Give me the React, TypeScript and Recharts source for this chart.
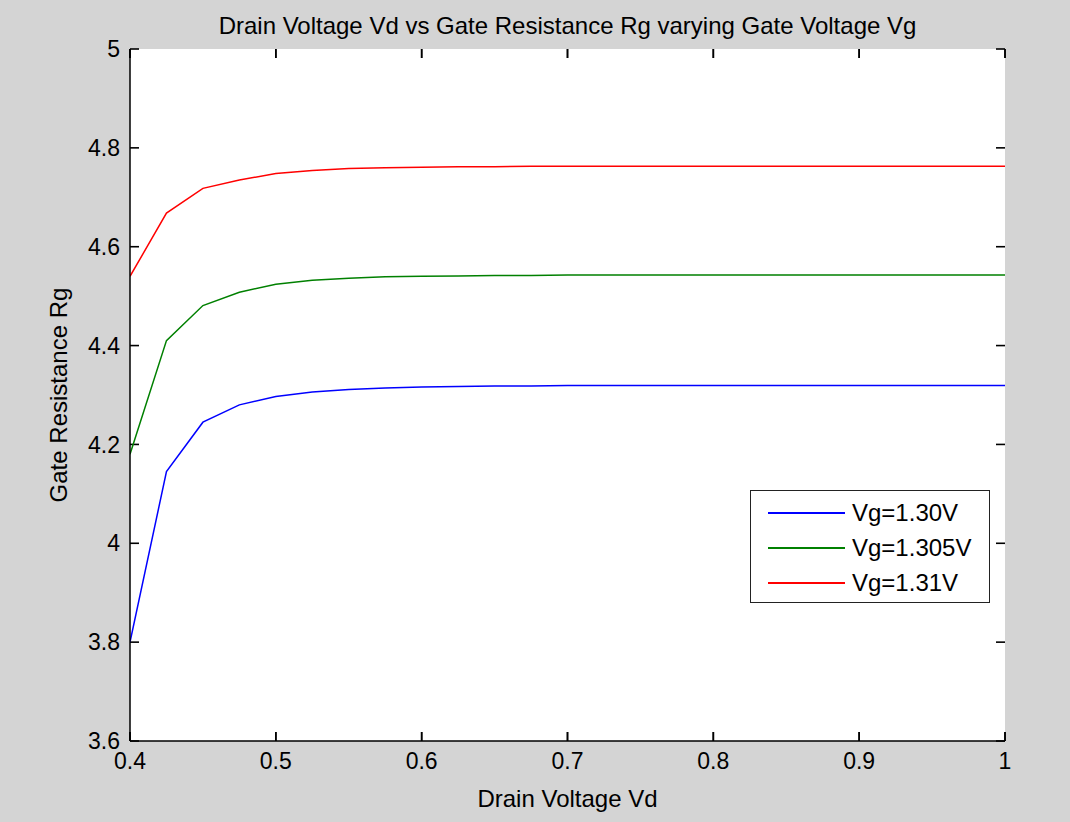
import React from 'react';
import {
  LineChart,
  Line,
  XAxis,
  YAxis,
  CartesianGrid,
  ReferenceLine,
  Legend,
  Label,
} from 'recharts';

// Drain voltage samples (x axis)
const vd = [
  0.4, 0.425, 0.45, 0.475, 0.5, 0.525, 0.55, 0.575, 0.6, 0.625, 0.65, 0.675, 0.7,
  0.725, 0.75, 0.775, 0.8, 0.825, 0.85, 0.875, 0.9, 0.925, 0.95, 0.975, 1.0,
];

// Gate resistance for each gate voltage
const rg130 = [
  3.8, 4.145, 4.245, 4.28, 4.297, 4.306, 4.311, 4.314, 4.316, 4.317, 4.318, 4.318, 4.319,
  4.319, 4.319, 4.319, 4.319, 4.319, 4.319, 4.319, 4.319, 4.319, 4.319, 4.319, 4.319,
];
const rg1305 = [
  4.18, 4.41, 4.481, 4.508, 4.524, 4.532, 4.536, 4.539, 4.54, 4.541, 4.542, 4.542, 4.543,
  4.543, 4.543, 4.543, 4.543, 4.543, 4.543, 4.543, 4.543, 4.543, 4.543, 4.543, 4.543,
];
const rg131 = [
  4.54, 4.668, 4.718, 4.735, 4.748, 4.754, 4.758, 4.76, 4.761, 4.762, 4.762, 4.763, 4.763,
  4.763, 4.763, 4.763, 4.763, 4.763, 4.763, 4.763, 4.763, 4.763, 4.763, 4.763, 4.763,
];

const xTicks = [0.4, 0.5, 0.6, 0.7, 0.8, 0.9, 1];
const yTicks = [3.6, 3.8, 4, 4.2, 4.4, 4.6, 4.8, 5];

const series = [
  { key: 'vg130', name: 'Vg=1.30V', color: '#0000ff' },
  { key: 'vg1305', name: 'Vg=1.305V', color: '#008000' },
  { key: 'vg131', name: 'Vg=1.31V', color: '#ff0000' },
];

const data = vd.map((v, i) => ({
  vd: v,
  vg130: rg130[i],
  vg1305: rg1305[i],
  vg131: rg131[i],
}));

const W = 1070;
const H = 822;
const MARGIN = { top: 49, right: 65, bottom: 21, left: 70 };
const Y_AXIS_W = 60;
const X_AXIS_H = 60;

const FONT = '"Liberation Sans", Arial, sans-serif';
const tickStyle = { fill: '#000', fontSize: 23, fontFamily: FONT };
const labelStyle = { fill: '#000', fontSize: 24, fontFamily: FONT };
const boxLine = { stroke: '#000', strokeWidth: 1.5 };
const TICK_LEN = 9;
const TICK_W = 1.6;

// grid lines reduced to short inward tick marks at both ends (MATLAB box ticks)
const hTick = (p: any) => (
  <g key={p.key}>
    <line x1={p.x1} x2={p.x1 + TICK_LEN} y1={p.y1} y2={p.y2} stroke="#000" strokeWidth={TICK_W} />
    <line x1={p.x2 - TICK_LEN} x2={p.x2} y1={p.y1} y2={p.y2} stroke="#000" strokeWidth={TICK_W} />
  </g>
);
const vTick = (p: any) => {
  const top = Math.min(p.y1, p.y2);
  const bottom = Math.max(p.y1, p.y2);
  return (
    <g key={p.key}>
      <line x1={p.x1} x2={p.x1} y1={top} y2={top + TICK_LEN} stroke="#000" strokeWidth={TICK_W} />
      <line x1={p.x1} x2={p.x1} y1={bottom - TICK_LEN} y2={bottom} stroke="#000" strokeWidth={TICK_W} />
    </g>
  );
};

// MATLAB-style boxed legend
const renderLegend = () => (
  <div
    style={{
      width: 240,
      height: 113,
      boxSizing: 'border-box',
      background: '#fff',
      border: '1.5px solid #222',
      paddingTop: 4,
      fontFamily: FONT,
      fontSize: 24,
      color: '#000',
    }}
  >
    {series.map((s) => (
      <div key={s.key} style={{ display: 'flex', alignItems: 'center', height: 35 }}>
        <div style={{ marginLeft: 17, width: 77, height: 2, background: s.color }} />
        <span style={{ marginLeft: 7 }}>{s.name}</span>
      </div>
    ))}
  </div>
);

export default function App() {
  const plotLeft = MARGIN.left + Y_AXIS_W;
  const plotTop = MARGIN.top;
  const plotW = W - plotLeft - MARGIN.right;
  const plotH = H - plotTop - MARGIN.bottom - X_AXIS_H;
  return (
    <div
      style={{
        position: 'absolute',
        left: 0,
        top: 0,
        width: W,
        height: H,
        background: '#d4d4d4',
      }}
    >
      {/* white axes background, behind the svg */}
      <div
        style={{
          position: 'absolute',
          left: plotLeft,
          top: plotTop,
          width: plotW,
          height: plotH,
          background: '#fff',
        }}
      />
      <div
        style={{
          position: 'absolute',
          left: plotLeft,
          width: plotW,
          top: 12,
          textAlign: 'center',
          fontFamily: FONT,
          fontSize: 24,
          lineHeight: '28px',
          color: '#000',
        }}
      >
        Drain Voltage Vd vs Gate Resistance Rg varying Gate Voltage Vg
      </div>
      <LineChart width={W} height={H} data={data} margin={MARGIN}>
        <CartesianGrid
          xAxisId="b"
          yAxisId="l"
          fill="none"
          stroke="#000"
          horizontal={hTick}
          vertical={vTick}
        />
        <XAxis
          xAxisId="b"
          dataKey="vd"
          type="number"
          domain={[0.4, 1]}
          ticks={xTicks}
          height={X_AXIS_H}
          tickLine={false}
          tickSize={0}
          tickMargin={12}
          axisLine={boxLine}
          tick={tickStyle}
          allowDataOverflow
        >
          <Label value="Drain Voltage Vd" position="insideBottom" offset={-6} style={labelStyle} />
        </XAxis>
        <YAxis
          yAxisId="l"
          type="number"
          domain={[3.6, 5]}
          ticks={yTicks}
          width={Y_AXIS_W}
          tickLine={false}
          tickSize={0}
          tickMargin={10}
          axisLine={boxLine}
          tick={tickStyle}
          allowDataOverflow
        >
          <Label
            value="Gate Resistance Rg"
            angle={-90}
            position="insideLeft"
            offset={-12}
            style={{ ...labelStyle, textAnchor: 'middle' }}
          />
        </YAxis>
        <XAxis
          xAxisId="t"
          dataKey="vd"
          type="number"
          orientation="top"
          domain={[0.4, 1]}
          height={0}
          mirror
          tick={false}
          tickLine={false}
          axisLine={boxLine}
        />
        <YAxis
          yAxisId="r"
          type="number"
          orientation="right"
          domain={[3.6, 5]}
          width={0}
          mirror
          tick={false}
          tickLine={false}
          axisLine={boxLine}
        />
        {/* top / bottom tick marks at each x tick */}
        {xTicks.map((t) => (
          <ReferenceLine
            key={`xt-${t}`}
            xAxisId="b"
            yAxisId="l"
            x={t}
            stroke="#000"
            shape={vTick}
          />
        ))}
        <Legend
          layout="vertical"
          align="center"
          verticalAlign="middle"
          content={renderLegend}
          wrapperStyle={{ left: 750, top: 490, width: 240, height: 113 }}
        />
        {series.map((s) => (
          <Line
            key={s.key}
            xAxisId="b"
            yAxisId="l"
            type="linear"
            dataKey={s.key}
            name={s.name}
            stroke={s.color}
            strokeWidth={1.5}
            dot={false}
            isAnimationActive={false}
          />
        ))}
      </LineChart>
    </div>
  );
}
